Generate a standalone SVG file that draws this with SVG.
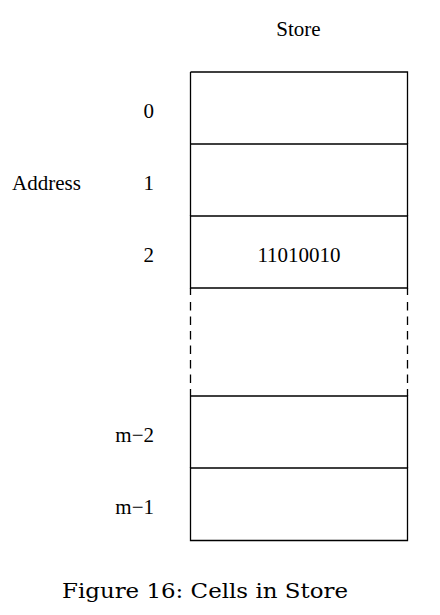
<svg xmlns="http://www.w3.org/2000/svg" width="440" height="615" viewBox="0 0 440 615">
<style>
text{font-family:"Liberation Serif","Times New Roman",serif;font-size:21px;fill:#000}
.c{text-anchor:middle}
.e{text-anchor:end}
.ln{stroke:#000;stroke-width:1.3;fill:none}
.cap{font-family:"DejaVu Serif","Liberation Serif",serif;font-size:20.5px}
</style>
<rect width="440" height="615" fill="#fff"/>
<text class="c" x="298.5" y="36">Store</text>
<text x="12" y="190">Address</text>
<g id="cell0"><path class="ln" d="M190.5,72 H407.5 V144 M190.5,72 V144"/><text class="e" x="154" y="118">0</text></g>
<g id="cell1"><path class="ln" d="M190.5,144 H407.5 V216 M190.5,144 V216"/><text class="e" x="154" y="190">1</text></g>
<g id="cell2"><path class="ln" d="M190.5,216 H407.5 V288 H190.5 Z"/><text class="e" x="154" y="262">2</text><text class="c" x="299" y="262">11010010</text></g>
<g id="gap"><path class="ln" d="M190.5,288V295M190.5,302V310.5M190.5,316.5V325M190.5,331V339.5M190.5,345.5V354M190.5,360V368.5M190.5,374.5V383M190.5,389V396M407.5,288V295M407.5,302V310.5M407.5,316.5V325M407.5,331V339.5M407.5,345.5V354M407.5,360V368.5M407.5,374.5V383M407.5,389V396"/></g>
<g id="cellm2"><path class="ln" d="M190.5,396 H407.5 V468 M190.5,396 V468"/><text class="e" x="154" y="442">m−2</text></g>
<g id="cellm1"><path class="ln" d="M190.5,468 H407.5 V540.5 H190.5 Z"/><text class="e" x="154" y="514">m−1</text></g>
<text class="cap" x="62" y="598" textLength="286" lengthAdjust="spacingAndGlyphs">Figure 16: Cells in Store</text>
</svg>
